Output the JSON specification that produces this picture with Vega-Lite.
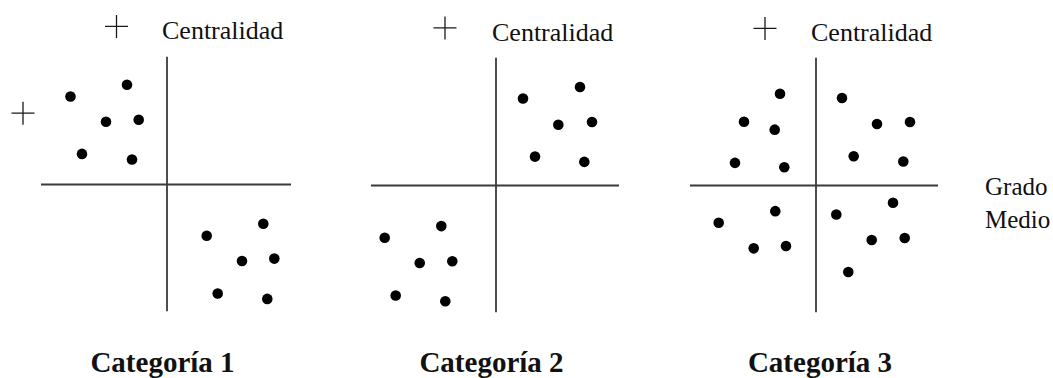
{
  "$schema": "https://vega.github.io/schema/vega-lite/v6.json",
  "width": 1053,
  "height": 378,
  "autosize": {"type": "fit", "contains": "padding"},
  "padding": 0,
  "background": "white",
  "config": {"view": {"stroke": null}},
  "datasets": {
    "axes": [
      {"panel": 1, "x": 167, "x2": 167, "y": 57, "y2": 312},
      {"panel": 1, "x": 41, "x2": 291, "y": 185, "y2": 185},
      {"panel": 2, "x": 496, "x2": 496, "y": 58, "y2": 313},
      {"panel": 2, "x": 371, "x2": 619, "y": 186, "y2": 186},
      {"panel": 3, "x": 816, "x2": 816, "y": 58, "y2": 313},
      {"panel": 3, "x": 690, "x2": 938, "y": 186, "y2": 186}
    ],
    "plus": [
      {"x": 116.5, "y": 26.5},
      {"x": 445, "y": 28},
      {"x": 765, "y": 28.5},
      {"x": 23, "y": 113.5}
    ],
    "pts": [
      {"panel": 1, "x": 70.5, "y": 96.7},
      {"panel": 1, "x": 127, "y": 85},
      {"panel": 1, "x": 106, "y": 122},
      {"panel": 1, "x": 138.7, "y": 120},
      {"panel": 1, "x": 82, "y": 154.3},
      {"panel": 1, "x": 132, "y": 160},
      {"panel": 1, "x": 206.7, "y": 236.3},
      {"panel": 1, "x": 263.3, "y": 224.3},
      {"panel": 1, "x": 242, "y": 261.7},
      {"panel": 1, "x": 274.3, "y": 259.3},
      {"panel": 1, "x": 217.7, "y": 294.3},
      {"panel": 1, "x": 267.3, "y": 299.7},
      {"panel": 2, "x": 523, "y": 98.7},
      {"panel": 2, "x": 580, "y": 87.3},
      {"panel": 2, "x": 558.3, "y": 125},
      {"panel": 2, "x": 592, "y": 122.3},
      {"panel": 2, "x": 535, "y": 157},
      {"panel": 2, "x": 584.3, "y": 162.3},
      {"panel": 2, "x": 384.7, "y": 238.3},
      {"panel": 2, "x": 441.3, "y": 226.7},
      {"panel": 2, "x": 419.7, "y": 263.7},
      {"panel": 2, "x": 452.3, "y": 262},
      {"panel": 2, "x": 395.7, "y": 296.3},
      {"panel": 2, "x": 445.3, "y": 302},
      {"panel": 3, "x": 780, "y": 94},
      {"panel": 3, "x": 744, "y": 122},
      {"panel": 3, "x": 774.7, "y": 130},
      {"panel": 3, "x": 735, "y": 163.3},
      {"panel": 3, "x": 784.3, "y": 167.7},
      {"panel": 3, "x": 842, "y": 98.3},
      {"panel": 3, "x": 877, "y": 124.3},
      {"panel": 3, "x": 910, "y": 122.3},
      {"panel": 3, "x": 853.7, "y": 156.7},
      {"panel": 3, "x": 903.3, "y": 162},
      {"panel": 3, "x": 718.7, "y": 223.3},
      {"panel": 3, "x": 775.3, "y": 211.7},
      {"panel": 3, "x": 753.7, "y": 249},
      {"panel": 3, "x": 786, "y": 246.7},
      {"panel": 3, "x": 836.3, "y": 215},
      {"panel": 3, "x": 893, "y": 203.3},
      {"panel": 3, "x": 871.7, "y": 240.7},
      {"panel": 3, "x": 904.7, "y": 238.7},
      {"panel": 3, "x": 848.3, "y": 272.7}
    ],
    "central": [
      {"label": "Centralidad", "x": 162, "y": 39.5},
      {"label": "Centralidad", "x": 492, "y": 41},
      {"label": "Centralidad", "x": 811, "y": 41}
    ],
    "grado": [
      {"label": "Grado", "x": 985, "y": 195.5},
      {"label": "Medio", "x": 985, "y": 228.5}
    ],
    "cats": [
      {"label": "Categoría 1", "x": 162.5, "y": 373},
      {"label": "Categoría 2", "x": 491.5, "y": 373},
      {"label": "Categoría 3", "x": 820, "y": 373}
    ]
  },
  "encoding": {
    "x": {"field": "x", "type": "quantitative", "scale": {"domain": [0, 1053], "nice": false, "zero": false}, "axis": null},
    "y": {"field": "y", "type": "quantitative", "scale": {"domain": [0, 378], "reverse": true, "nice": false, "zero": false}, "axis": null}
  },
  "layer": [
    {
      "data": {"name": "axes"},
      "mark": {"type": "rule", "color": "#3a3a3a", "strokeWidth": 1.8},
      "encoding": {
        "x2": {"field": "x2"},
        "y2": {"field": "y2"}
      }
    },
    {
      "data": {"name": "plus"},
      "mark": {"type": "point", "shape": "M-1,0H1M0,-1V1", "size": 529, "filled": false, "stroke": "#1a1a1a", "strokeWidth": 1.3, "opacity": 1}
    },
    {
      "data": {"name": "pts"},
      "mark": {"type": "circle", "size": 112, "color": "black", "opacity": 1}
    },
    {
      "data": {"name": "central"},
      "mark": {"type": "text", "align": "left", "baseline": "alphabetic", "font": "Liberation Serif", "fontSize": 26, "color": "#111"},
      "encoding": {"text": {"field": "label"}}
    },
    {
      "data": {"name": "grado"},
      "mark": {"type": "text", "align": "left", "baseline": "alphabetic", "font": "Liberation Serif", "fontSize": 25, "color": "#111"},
      "encoding": {"text": {"field": "label"}}
    },
    {
      "data": {"name": "cats"},
      "mark": {"type": "text", "align": "center", "baseline": "alphabetic", "font": "Liberation Serif", "fontSize": 29, "fontWeight": "bold", "color": "#111"},
      "encoding": {"text": {"field": "label"}}
    }
  ]
}
